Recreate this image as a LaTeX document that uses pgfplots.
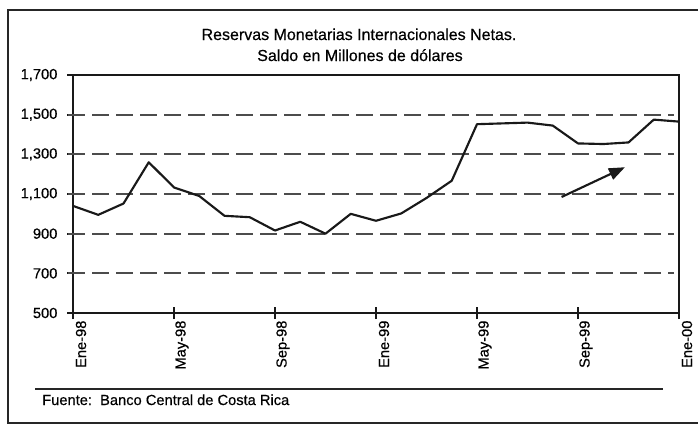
\documentclass[border=0pt]{standalone}
\usepackage{pgfplots}
\pgfplotsset{compat=1.18}
\usepackage{fontspec}
\setmainfont{Liberation Sans}[FakeBold=0.5]
\usetikzlibrary{arrows.meta}
\begin{document}
\begin{tikzpicture}[x=1pt,y=1pt]
\useasboundingbox (0,0) rectangle (523.5,319.5);
\draw[line width=1.6pt,black!85] (523.5,312) -- (6,312) -- (6,2.25) -- (523.5,2.25);
\node[anchor=base] at (269.25,289.5) {\fontsize{12pt}{14pt}\selectfont Reservas Monetarias Internacionales Netas.};
\node[anchor=base] at (270,273.75) {\fontsize{12pt}{14pt}\selectfont Saldo en Millones de d\'olares};
\begin{axis}[
  at={(54.75pt,84.75pt)}, anchor=south west,
  scale only axis, width=454.5pt, height=178.5pt,
  xmin=0, xmax=24, ymin=500, ymax=1700,
  axis line style={line width=1.7pt, black!90},
  xtick={0,4,8,12,16,20,24},
  xticklabels={Ene-98,May-98,Sep-98,Ene-99,May-99,Sep-99,Ene-00},
  ytick={500,700,900,1100,1300,1500,1700},
  yticklabels={500,700,900,{1,100},{1,300},{1,500},{1,700}},
  xtick pos=bottom, ytick pos=left,
  tick align=center,
  major tick length=9pt,
  tick style={line width=1.4pt, black!90},
  xticklabel style={rotate=90, anchor=east, font=\fontsize{11pt}{13pt}\selectfont, inner sep=1pt, yshift=-6pt},
  yticklabel style={font=\fontsize{11pt}{13pt}\selectfont, inner sep=1pt, xshift=-6pt},
  clip=false,
]
\foreach \g in {700,900,1100,1300,1500}{
  \edef\tmp{\noexpand\addplot[black!70, line width=1.5pt, dash pattern=on 12.5pt off 5.5pt, forget plot] coordinates {(-0.18,\g) (23.8,\g)};}
  \tmp
}
\addplot[black!90, line width=1.6pt, line join=round] coordinates {
(0,1040) (1,995) (2,1052) (3,1260) (4,1133) (5,1090) (6,990) (7,983) (8,916) (9,960) (10,900) (11,1000) (12,965) (13,1002) (14,1080) (15,1167) (16,1452) (17,1456) (18,1460) (19,1445) (20,1355) (21,1352) (22,1360) (23,1475) (24,1465)
};
\draw[black!90, line width=1.6pt, -{Triangle[length=12pt,width=9pt]}] (axis cs:19.35,1085) -- (axis cs:21.86,1235);
\end{axis}
\draw[line width=1.3pt,black!85] (26.25,27.75) -- (497.25,27.75);
\node[anchor=base west, inner sep=0pt] at (31.5,15.75) {\fontsize{11pt}{13pt}\selectfont Fuente:\ \ Banco Central de Costa Rica};
\end{tikzpicture}
\end{document}
